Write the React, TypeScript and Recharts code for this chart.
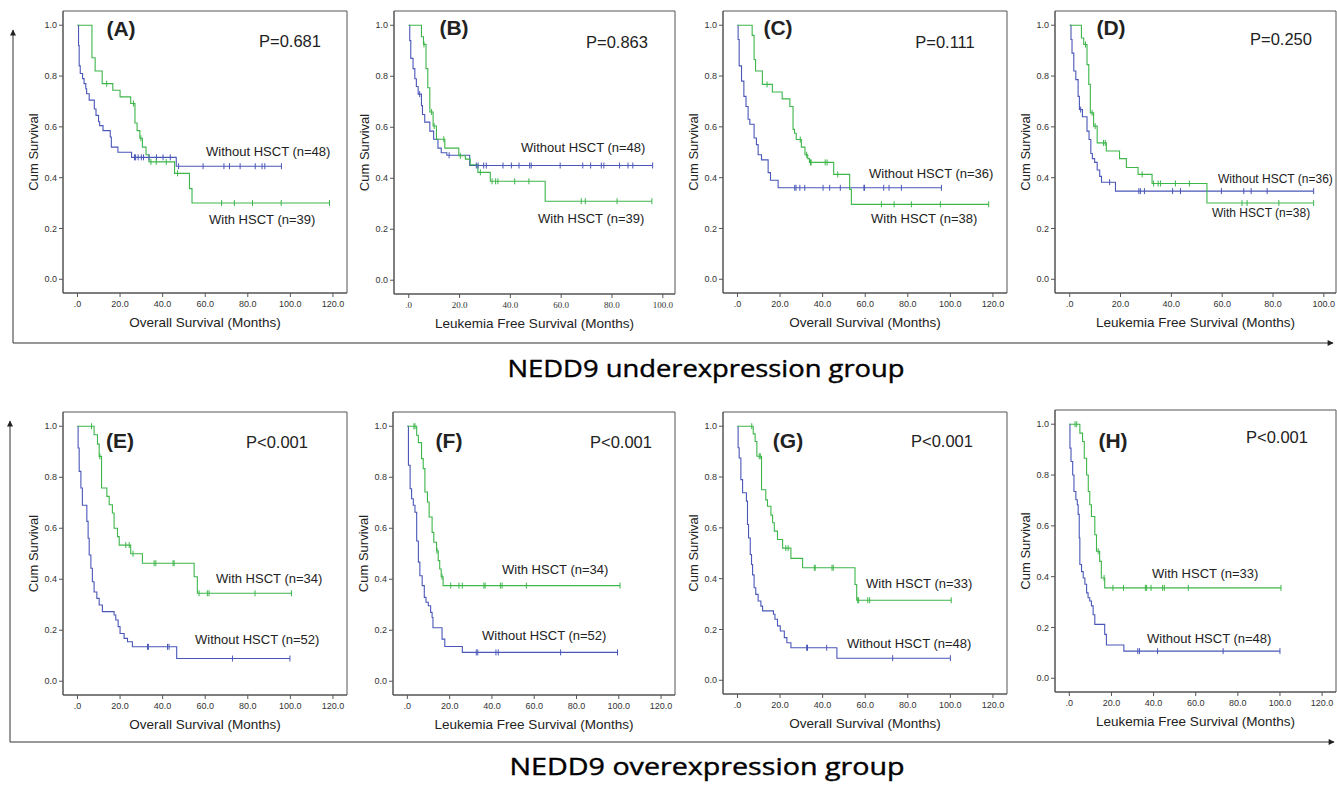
import React from "react"
import { ComposedChart, Line, Scatter, XAxis, YAxis, ReferenceArea } from "recharts"

type Pt = [number, number]

// Kaplan-Meier steps: [month, cumulative survival after the drop]; censors: months only
// (A) low NEDD9, overall survival
const aWithSteps: Pt[] = [[0, 1], [6.8, 0.872], [8.3, 0.82], [11.6, 0.77], [16.6, 0.744], [20, 0.718], [25, 0.692], [27, 0.615], [28, 0.585], [29.3, 0.555], [30.5, 0.52], [32.2, 0.49], [33.6, 0.462], [45.6, 0.417], [52.6, 0.357], [53.8, 0.3], [118.4, 0.3]]
const aWithCensor = [13.7, 26.3, 29.8, 34.5, 37, 41.7, 47, 67.7, 73.7, 82.2, 95.7, 118.4]
const aWithoutSteps: Pt[] = [[0, 1], [0.5, 0.92], [0.8, 0.84], [1.3, 0.81], [2.4, 0.79], [3.1, 0.77], [3.9, 0.75], [4.3, 0.73], [5.5, 0.705], [7.9, 0.67], [8.7, 0.645], [9.9, 0.62], [10.4, 0.605], [12, 0.585], [15.4, 0.56], [15.9, 0.52], [19, 0.5], [25.4, 0.48], [46.4, 0.445], [95.8, 0.445]]
const aWithoutCensor = [26.8, 27.3, 28.5, 30, 31, 33.6, 37.1, 40.2, 43.6, 47.5, 59, 68.8, 71.4, 76.4, 83.5, 86.7, 88, 95.8]

// (B) low NEDD9, leukemia free survival
const bWithSteps: Pt[] = [[0, 1], [5, 0.955], [5.8, 0.925], [6.8, 0.83], [7.5, 0.755], [8.3, 0.66], [9.6, 0.605], [10.9, 0.553], [14.2, 0.518], [19.7, 0.488], [22.3, 0.475], [24.2, 0.453], [27.2, 0.423], [32.1, 0.388], [53.7, 0.31], [95.7, 0.31]]
const bWithCensor = [6, 9, 10, 13.8, 20.3, 28.2, 32.8, 34.2, 35.1, 41.7, 47.3, 67.9, 69.5, 82, 95.7]
const bWithoutSteps: Pt[] = [[0, 1], [0.4, 0.94], [0.8, 0.87], [1.7, 0.83], [2.4, 0.79], [3, 0.76], [3.7, 0.73], [5, 0.685], [5.4, 0.65], [6.3, 0.62], [8.3, 0.585], [9.8, 0.553], [11.5, 0.518], [12.8, 0.5], [15, 0.49], [24, 0.45], [96, 0.45]]
const bWithoutCensor = [4.3, 15.9, 26.6, 27.3, 29.5, 30.5, 37.1, 40.4, 43.4, 47.6, 48.2, 59.6, 68.5, 71.6, 75.8, 76.8, 83, 86.3, 88.2, 96]

// (C) low NEDD9, overall survival
const cWithSteps: Pt[] = [[0, 1], [6.9, 0.96], [7.8, 0.865], [8.5, 0.82], [11.7, 0.767], [16.4, 0.737], [21, 0.71], [24.6, 0.68], [26.1, 0.59], [26.8, 0.575], [27.6, 0.55], [30, 0.52], [31.7, 0.49], [33, 0.475], [33.8, 0.46], [45.2, 0.413], [52.7, 0.354], [53.5, 0.295], [118, 0.295]]
const cWithCensor = [13.9, 29.5, 32.5, 34.3, 34.6, 41.2, 42.1, 47.1, 67.6, 73.6, 81.7, 95.3, 118]
const cWithoutSteps: Pt[] = [[0, 1], [0.3, 0.944], [0.8, 0.84], [1.9, 0.78], [3, 0.72], [4, 0.68], [5, 0.63], [5.8, 0.61], [7.8, 0.556], [8.9, 0.53], [9.7, 0.49], [11.3, 0.47], [14.4, 0.42], [15.5, 0.39], [19.1, 0.36], [95.8, 0.36]]
const cWithoutCensor = [26.9, 27.5, 29.3, 31.6, 40.2, 43.3, 48.3, 59.4, 59.7, 68.7, 71.2, 77, 95.8]

// (D) low NEDD9, leukemia free survival
const dWithSteps: Pt[] = [[0, 1], [4.6, 0.95], [5.5, 0.924], [6.8, 0.845], [7.5, 0.767], [8.1, 0.655], [9.4, 0.603], [10.8, 0.537], [14.4, 0.505], [19.6, 0.475], [22.3, 0.44], [26.9, 0.413], [32.4, 0.377], [54, 0.3], [96, 0.3]]
const dWithCensor = [6.2, 8.8, 10, 13.3, 14, 28.5, 33, 34.8, 35.7, 41.6, 47.1, 67.8, 69.8, 82.3, 96]
const dWithoutSteps: Pt[] = [[0, 1], [0.5, 0.944], [0.9, 0.89], [1.6, 0.82], [2.4, 0.786], [3.3, 0.72], [3.8, 0.668], [5, 0.64], [6.8, 0.583], [7.6, 0.55], [8.3, 0.495], [8.9, 0.475], [9.8, 0.46], [10.8, 0.43], [11.8, 0.405], [12.5, 0.382], [18, 0.347], [96, 0.347]]
const dWithoutCensor = [4.3, 15.7, 27.2, 27.8, 29.4, 40.5, 43.6, 59.7, 68.5, 71.4, 77.7, 96]

// (E) high NEDD9, overall survival
const eWithSteps: Pt[] = [[0, 1], [7.8, 0.967], [9.4, 0.93], [10.2, 0.882], [11.3, 0.758], [13.8, 0.725], [14.9, 0.692], [16.4, 0.66], [17.2, 0.6], [18.8, 0.567], [19.6, 0.534], [25, 0.5], [30.5, 0.463], [54.8, 0.41], [56.3, 0.345], [100.5, 0.345]]
const eWithCensor = [6.6, 10.5, 22.7, 24.3, 26.1, 36, 36.8, 44.9, 45.4, 57.1, 61, 61.8, 83.4, 100.5]
const eWithoutSteps: Pt[] = [[0, 1], [0.3, 0.915], [0.8, 0.823], [1.6, 0.758], [2.3, 0.69], [4.4, 0.627], [5, 0.561], [5.5, 0.495], [6.3, 0.443], [7, 0.39], [7.8, 0.35], [9.1, 0.325], [10.2, 0.299], [11.7, 0.273], [17.2, 0.26], [18, 0.24], [19.1, 0.214], [20, 0.187], [21.9, 0.168], [23.5, 0.155], [25.8, 0.135], [46.6, 0.089], [99.8, 0.089]]
const eWithoutCensor = [32.9, 33.3, 42.3, 43, 72.8, 99.8]

// (F) high NEDD9, leukemia free survival
const fWithSteps: Pt[] = [[0, 1], [4.4, 0.965], [5.2, 0.936], [6.7, 0.873], [7.5, 0.834], [8.3, 0.742], [9.5, 0.703], [10.3, 0.644], [11.7, 0.584], [12.5, 0.545], [13.8, 0.512], [14.6, 0.473], [15.3, 0.44], [16, 0.41], [16.9, 0.375], [100.6, 0.375]]
const fWithCensor = [3.1, 3.6, 14, 16.4, 20.5, 24.4, 26, 36.2, 36.8, 44, 44.8, 56.3, 100.6]
const fWithoutSteps: Pt[] = [[0, 1], [0.5, 0.847], [1.3, 0.755], [2, 0.716], [2.8, 0.69], [3.6, 0.663], [4.4, 0.55], [5.2, 0.467], [5.9, 0.414], [7, 0.375], [8, 0.329], [8.8, 0.31], [9.9, 0.296], [11, 0.27], [11.7, 0.25], [12.1, 0.21], [16.4, 0.165], [17.7, 0.136], [26, 0.113], [99.4, 0.113]]
const fWithoutCensor = [32.6, 33.3, 41.9, 43, 72.5, 99.4]

// (G) high NEDD9, overall survival
const gWithSteps: Pt[] = [[0, 1], [7.4, 0.97], [8.3, 0.94], [9.1, 0.882], [11.3, 0.75], [13.3, 0.71], [14.1, 0.685], [15.7, 0.65], [16.5, 0.62], [17.3, 0.587], [18.8, 0.554], [21.2, 0.52], [25.1, 0.48], [30.6, 0.443], [55.2, 0.377], [56, 0.315], [100.4, 0.315]]
const gWithCensor = [6.7, 10.2, 10.7, 22.7, 23.8, 36.1, 36.5, 44.4, 45, 56.5, 56.9, 61.2, 62.1, 100.4]
const gWithoutSteps: Pt[] = [[0, 1], [0.3, 0.915], [0.8, 0.875], [1.6, 0.79], [2.4, 0.738], [4.2, 0.705], [4.7, 0.613], [5.2, 0.56], [6, 0.495], [6.6, 0.456], [7.1, 0.415], [7.8, 0.364], [8.6, 0.338], [9.7, 0.312], [11, 0.292], [11.8, 0.273], [16.9, 0.26], [17.6, 0.24], [18.8, 0.214], [20.1, 0.194], [22, 0.168], [23.2, 0.148], [25.1, 0.128], [46.7, 0.087], [100, 0.087]]
const gWithoutCensor = [32.5, 32.9, 41.9, 72.9, 100]

// (H) high NEDD9, leukemia free survival
const hWithSteps: Pt[] = [[0, 1], [5, 0.965], [6.3, 0.932], [7.1, 0.866], [8.2, 0.8], [9, 0.735], [9.7, 0.683], [10.5, 0.637], [12.1, 0.565], [12.9, 0.5], [14.4, 0.46], [15.2, 0.395], [16.8, 0.356], [100.5, 0.356]]
const hWithCensor = [2.7, 3.5, 13.7, 16.5, 20.7, 25.7, 36.1, 36.7, 38.8, 44.3, 45.1, 56.5, 100.5]
const hWithoutSteps: Pt[] = [[0, 1], [0.3, 0.906], [0.8, 0.853], [1.6, 0.8], [2.2, 0.735], [3.1, 0.703], [3.8, 0.683], [4.2, 0.645], [4.7, 0.552], [5, 0.448], [5.8, 0.42], [6.6, 0.395], [7.4, 0.37], [8.2, 0.336], [8.9, 0.317], [9.7, 0.304], [10.5, 0.285], [11.3, 0.25], [12.1, 0.212], [16.8, 0.173], [17.6, 0.131], [25.9, 0.107], [100, 0.107]]
const hWithoutCensor = [32.5, 33.3, 41.9, 73, 100]

const panelTags = ["(A)", "(B)", "(C)", "(D)", "(E)", "(F)", "(G)", "(H)"]
const pValues = ["P=0.681", "P=0.863", "P=0.111", "P=0.250", "P<0.001", "P<0.001", "P<0.001", "P<0.001"]
const withLabels = ["With HSCT (n=39)", "With HSCT (n=39)", "With HSCT (n=38)", "With HSCT (n=38)", "With HSCT (n=34)", "With HSCT (n=34)", "With HSCT (n=33)", "With HSCT (n=33)"]
const withoutLabels = ["Without HSCT (n=48)", "Without HSCT (n=48)", "Without HSCT (n=36)", "Without HSCT (n=36)", "Without HSCT (n=52)", "Without HSCT (n=52)", "Without HSCT (n=48)", "Without HSCT (n=48)"]
const xTitles = ["Overall Survival (Months)", "Leukemia Free Survival (Months)"]
const xTicks120 = [0, 20, 40, 60, 80, 100, 120]
const xTicks100 = [0, 20, 40, 60, 80, 100]
const yTicks = [0, 0.2, 0.4, 0.6, 0.8, 1.0]
const groupTitles = ["NEDD9 underexpression group", "NEDD9 overexpression group"]

const GREEN = "#3db64a"
const BLUE = "#4a57b8"
const FRAME = "#555"
const SANS = "'Liberation Sans', Arial, sans-serif"
const SERIF = "'Liberation Serif', 'Times New Roman', serif"
const Y_DOMAIN: [number, number] = [-0.054, 1.056]

interface Frame { x: number; y: number; w: number; h: number }
interface PanelSpec {
  frame: Frame
  xMax: 100 | 120
  withSteps: Pt[]
  withCensor: number[]
  withoutSteps: Pt[]
  withoutCensor: number[]
  serifTicks?: boolean
  tag: [number, number]
  p: [number, number]
  withPos: [number, number]
  withoutPos: [number, number]
  curveFont: number
}

const panels: PanelSpec[] = [
  { frame: { x: 63, y: 11, w: 284, h: 282 }, xMax: 120, withSteps: aWithSteps, withCensor: aWithCensor, withoutSteps: aWithoutSteps, withoutCensor: aWithoutCensor, tag: [121, 36], p: [290, 47], withPos: [209, 224], withoutPos: [206, 156], curveFont: 13 },
  { frame: { x: 394, y: 11, w: 281, h: 283 }, xMax: 100, withSteps: bWithSteps, withCensor: bWithCensor, withoutSteps: bWithoutSteps, withoutCensor: bWithoutCensor, serifTicks: true, tag: [454, 35], p: [617, 48], withPos: [538, 223], withoutPos: [521, 152], curveFont: 13 },
  { frame: { x: 723, y: 11, w: 284, h: 282 }, xMax: 120, withSteps: cWithSteps, withCensor: cWithCensor, withoutSteps: cWithoutSteps, withoutCensor: cWithoutCensor, tag: [778, 35], p: [945, 48], withPos: [871, 223], withoutPos: [869, 178], curveFont: 13 },
  { frame: { x: 1055, y: 11, w: 281, h: 282 }, xMax: 100, withSteps: dWithSteps, withCensor: dWithCensor, withoutSteps: dWithoutSteps, withoutCensor: dWithoutCensor, tag: [1111, 35], p: [1281, 45], withPos: [1212, 217], withoutPos: [1218, 183], curveFont: 12 },
  { frame: { x: 63, y: 412, w: 284, h: 283 }, xMax: 120, withSteps: eWithSteps, withCensor: eWithCensor, withoutSteps: eWithoutSteps, withoutCensor: eWithoutCensor, tag: [120, 448], p: [277, 448], withPos: [216, 583], withoutPos: [195, 644], curveFont: 13 },
  { frame: { x: 393, y: 412, w: 282, h: 283 }, xMax: 120, withSteps: fWithSteps, withCensor: fWithCensor, withoutSteps: fWithoutSteps, withoutCensor: fWithoutCensor, tag: [449, 448], p: [621, 448], withPos: [502, 574], withoutPos: [482, 640], curveFont: 13 },
  { frame: { x: 723, y: 412, w: 284, h: 282 }, xMax: 120, withSteps: gWithSteps, withCensor: gWithCensor, withoutSteps: gWithoutSteps, withoutCensor: gWithoutCensor, tag: [788, 448], p: [942, 447], withPos: [866, 588], withoutPos: [847, 648], curveFont: 13 },
  { frame: { x: 1055, y: 410, w: 281, h: 282 }, xMax: 120, withSteps: hWithSteps, withCensor: hWithCensor, withoutSteps: hWithoutSteps, withoutCensor: hWithoutCensor, tag: [1113, 448], p: [1277, 443], withPos: [1152, 578], withoutPos: [1147, 643], curveFont: 13 },
]

function survivalAt(steps: Pt[], t: number) {
  let v = steps[0][1]
  for (const [x, y] of steps) if (x <= t) v = y
  return v
}

const toRows = (steps: Pt[]) => steps.map(([t, s]) => ({ t, s }))
const toCensorRows = (steps: Pt[], times: number[]) => times.map((t) => ({ t, s: survivalAt(steps, t) }))

const fmtX = (v: number) => (v === 0 ? ".0" : v.toFixed(1))
const fmtY = (v: number) => v.toFixed(1)

const censorMark = (color: string) => (props: any) => {
  const { cx, cy } = props
  if (cx == null || cy == null) return <g />
  return <line x1={cx} x2={cx} y1={cy - 3} y2={cy + 3} stroke={color} strokeWidth={1} />
}

function KMPanel({ p }: { p: PanelSpec }) {
  const { frame } = p
  const xDomain: [number, number] = p.xMax === 120 ? [-6.8, 126.6] : [-5.8, 104.8]
  const tickFont = { fontSize: 9, fill: "#333", fontFamily: p.serifTicks ? SERIF : SANS }
  return (
    <div style={{ position: "absolute", left: frame.x - 60, top: frame.y - 10 }}>
      <ComposedChart width={frame.w + 70} height={frame.h + 60} margin={{ top: 10, right: 10, bottom: 0, left: 0 }}>
        <XAxis
          type="number"
          dataKey="t"
          domain={xDomain}
          allowDataOverflow
          ticks={p.xMax === 120 ? xTicks120 : xTicks100}
          interval={0}
          tickFormatter={fmtX}
          height={50}
          stroke={FRAME}
          tickSize={4}
          tickMargin={4}
          tick={tickFont}
        />
        <YAxis
          type="number"
          dataKey="s"
          domain={Y_DOMAIN}
          allowDataOverflow
          ticks={yTicks}
          interval={0}
          tickFormatter={fmtY}
          width={60}
          stroke={FRAME}
          tickSize={4}
          tickMargin={2}
          tick={{ ...tickFont, fontFamily: SANS }}
        />
        <ReferenceArea x1={xDomain[0]} x2={xDomain[1]} y1={Y_DOMAIN[0]} y2={Y_DOMAIN[1]} fill="none" stroke={FRAME} strokeWidth={1} />
        <Line data={toRows(p.withoutSteps)} dataKey="s" type="stepAfter" stroke={BLUE} strokeWidth={1.1} dot={false} activeDot={false} isAnimationActive={false} />
        <Line data={toRows(p.withSteps)} dataKey="s" type="stepAfter" stroke={GREEN} strokeWidth={1.1} dot={false} activeDot={false} isAnimationActive={false} />
        <Scatter data={toCensorRows(p.withoutSteps, p.withoutCensor)} dataKey="s" shape={censorMark(BLUE)} isAnimationActive={false} />
        <Scatter data={toCensorRows(p.withSteps, p.withCensor)} dataKey="s" shape={censorMark(GREEN)} isAnimationActive={false} />
      </ComposedChart>
    </div>
  )
}

function Overlay() {
  const titleFont = "'Open Sans', 'Noto Sans', sans-serif"
  return (
    <svg width={1337} height={790} style={{ position: "absolute", left: 0, top: 0, pointerEvents: "none" }}>
      <defs>
        <marker id="arrow" viewBox="0 0 10 10" refX="9" refY="5" markerWidth="8" markerHeight="6" orient="auto-start-reverse">
          <path d="M0,0 L10,5 L0,10 z" fill="#222" />
        </marker>
      </defs>
      {/* group arrows */}
      <polyline points="13,30 13,343 1333,343" fill="none" stroke="#333" strokeWidth={1} markerStart="url(#arrow)" markerEnd="url(#arrow)" />
      <polyline points="10,421 10,742 1334,742" fill="none" stroke="#333" strokeWidth={1} markerStart="url(#arrow)" markerEnd="url(#arrow)" />
      <text x={706} y={377} textAnchor="middle" fontFamily={titleFont} fontSize={23} fill="#000" stroke="#000" strokeWidth={0.4} textLength={397} lengthAdjust="spacingAndGlyphs">{groupTitles[0]}</text>
      <text x={707} y={775} textAnchor="middle" fontFamily={titleFont} fontSize={23} fill="#000" stroke="#000" strokeWidth={0.4} textLength={395} lengthAdjust="spacingAndGlyphs">{groupTitles[1]}</text>
      {panels.map((p, i) => {
        const f = p.frame
        return (
          <g key={i} fontFamily={SANS} fill="#222">
            <text x={p.tag[0]} y={p.tag[1]} textAnchor="middle" fontSize={21} fontWeight="bold">{panelTags[i]}</text>
            <text x={p.p[0]} y={p.p[1]} textAnchor="middle" fontSize={16.5}>{pValues[i]}</text>
            <text x={p.withPos[0]} y={p.withPos[1]} fontSize={p.curveFont}>{withLabels[i]}</text>
            <text x={p.withoutPos[0]} y={p.withoutPos[1]} fontSize={p.curveFont}>{withoutLabels[i]}</text>
            <text x={f.x + f.w / 2} y={f.y + f.h + 34} textAnchor="middle" fontSize={13.5}>{xTitles[i % 2]}</text>
            <text
              x={f.x - 30}
              y={f.y + f.h / 2}
              textAnchor="middle"
              dominantBaseline="central"
              fontSize={13}
              transform={`rotate(-90 ${f.x - 30} ${f.y + f.h / 2})`}
            >
              Cum Survival
            </text>
          </g>
        )
      })}
    </svg>
  )
}

export default function App() {
  return (
    <div style={{ position: "absolute", left: 0, top: 0, width: 1337, height: 790, background: "#fff", overflow: "hidden" }}>
      {panels.map((p, i) => (
        <KMPanel key={i} p={p} />
      ))}
      <Overlay />
    </div>
  )
}
